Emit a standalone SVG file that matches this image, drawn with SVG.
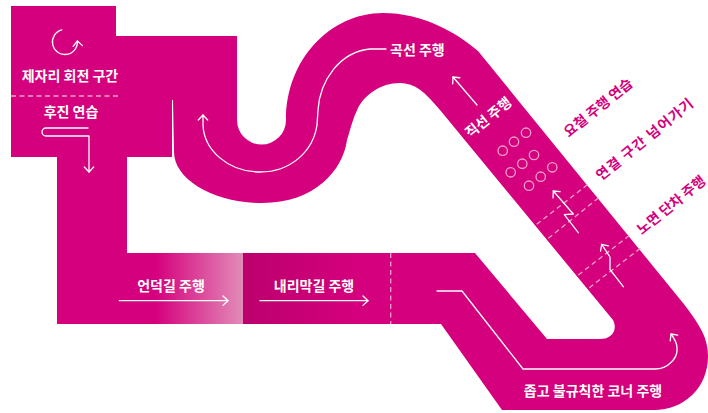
<svg xmlns="http://www.w3.org/2000/svg" width="708" height="413" viewBox="0 0 708 413">
<style>
.lbl{font-family:"Noto Sans CJK KR","Noto Sans",sans-serif;font-size:14px;font-weight:700;fill:#fff}
.out{fill:#d4007d}
.arw{fill:none;stroke:#fff;stroke-width:1.3;stroke-linejoin:round;stroke-linecap:round}
.dash{fill:none;stroke:#eea3c9;stroke-width:1.3;stroke-dasharray:5 3.5}
.bump{fill:none;stroke:#eea3c9;stroke-width:1.3}
</style>
<defs>
<linearGradient id="gUp" x1="0" y1="0" x2="1" y2="0">
<stop offset="0" stop-color="#d4007d"/>
<stop offset="1" stop-color="#e28cb8"/>
</linearGradient>
<linearGradient id="gDown" x1="0" y1="0" x2="1" y2="0">
<stop offset="0" stop-color="#bb006d"/>
<stop offset="0.75" stop-color="#d4007d"/>
</linearGradient>
<marker id="chev" viewBox="-7 -6 8 12" markerWidth="8" markerHeight="12" refX="0" refY="0" orient="auto" markerUnits="userSpaceOnUse">
<path d="M-5,-4.7 L0,0 L-5,4.7" fill="none" stroke="#fff" stroke-width="1.3" stroke-linejoin="round" stroke-linecap="round"/>
</marker>
</defs>

<g id="track">
<path fill="#d4007d" fill-rule="evenodd" d="M11,6 H116 V36 H237 V120 A24.5,24.5 0 0 0 286,120 C286,60 330,13 383,13 C422,13 456,32 478,51 L683,303 C700,325 708,338 708,356 C708,388 684,410 654,410 H502 L441,324 H57 V157 H11 Z
M172,100 V157 H127 V253 H475 L547,339 H600 C612,339 618,330 613,320 L440,110 C425,92 415,83 400,83 C380,83 365,95 358,108 C353,118 350,130 347,140 C343,170 315,203 262,203 C213,203 174,179 174,152 L173,100 Z"/>
<rect x="155" y="253" width="88" height="71" fill="url(#gUp)"/>
<rect x="243" y="253" width="147" height="71" fill="url(#gDown)"/>
</g>

<g id="markings">
<line class="dash" x1="11" y1="96" x2="118" y2="96"/>
<line class="dash" x1="390.7" y1="253" x2="390.7" y2="324"/>
<line class="dash" x1="536.7" y1="224.3" x2="588.3" y2="184"/>
<line class="dash" x1="548.3" y1="238.3" x2="600" y2="196.7"/>
<line class="dash" x1="578.3" y1="275" x2="630" y2="235"/>
<line class="dash" x1="589.3" y1="287.7" x2="641.7" y2="247.3"/>
<g id="bumps">
<circle class="bump" cx="526" cy="132.7" r="4.7"/>
<circle class="bump" cx="514" cy="141.7" r="4.7"/>
<circle class="bump" cx="502.7" cy="150.7" r="4.7"/>
<circle class="bump" cx="534" cy="155" r="4.7"/>
<circle class="bump" cx="522.3" cy="163.7" r="4.7"/>
<circle class="bump" cx="510.7" cy="172.3" r="4.7"/>
<circle class="bump" cx="552.3" cy="167.3" r="4.7"/>
<circle class="bump" cx="540.7" cy="176.7" r="4.7"/>
<circle class="bump" cx="529" cy="185.7" r="4.7"/>
</g>
</g>

<g id="connectors">
<path class="arw" d="M61.8,29.9 A12.5,12.5 0 1 0 77.4,41" marker-end="url(#chev)"/>
<path class="arw" d="M88,128 H46 A4,4 0 0 0 46,136 H89 V172" marker-end="url(#chev)"/>
<path class="arw" d="M386,49 H370 C340,52 320,80 318,110 L317,125 C313,152 290,172 260,172 C228,172 204,150 203,125 L203,115" marker-end="url(#chev)"/>
<path class="arw" d="M477,105 L453,77" marker-end="url(#chev)"/>
<path class="arw" d="M578.3,232.7 L564.3,214.7 L573.3,214 L553.3,191" marker-end="url(#chev)"/>
<path class="arw" d="M623.3,286.7 L610,269.5 L610,257 L601.7,244.3" marker-end="url(#chev)"/>
<path class="arw" d="M119.3,300.7 H228" marker-end="url(#chev)"/>
<path class="arw" d="M260,300.7 H368" marker-end="url(#chev)"/>
<path class="arw" d="M437,291 H462 L523,369 H655 C668,369 678,358 677,348 C677,343 674,338 671,334" marker-end="url(#chev)"/>
</g>

<g id="labels">
<text class="lbl" x="70" y="80.5" text-anchor="middle">제자리 회전 구간</text>
<text class="lbl" x="71" y="117" text-anchor="middle">후진 연습</text>
<text class="lbl" x="390" y="54.5">곡선 주행</text>
<text class="lbl" x="171" y="290.5" text-anchor="middle">언덕길 주행</text>
<text class="lbl" x="314" y="290.5" text-anchor="middle">내리막길 주행</text>
<text class="lbl" x="593" y="395.5" text-anchor="middle">좁고 불규칙한 코너 주행</text>
<text class="lbl" transform="translate(488.3,117.5) rotate(-39)" x="0" y="5" text-anchor="middle">직선 주행</text>
<text class="lbl out" transform="translate(598,107.5) rotate(-39)" x="0" y="5" text-anchor="middle">요철 주행 연습</text>
<text class="lbl out" transform="translate(645,139) rotate(-39)" x="0" y="5" text-anchor="middle" letter-spacing="1.2">연결 구간 넘어가기</text>
<text class="lbl out" transform="translate(671,205) rotate(-39)" x="0" y="5" text-anchor="middle">노면 단차 주행</text>
</g>
</svg>
